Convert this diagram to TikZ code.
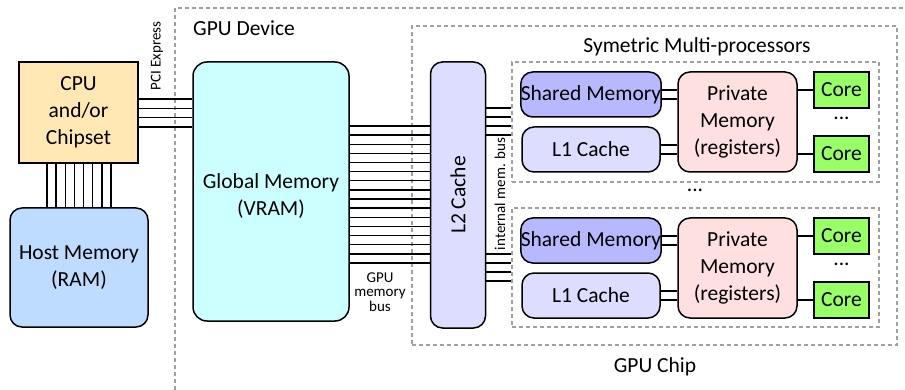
\documentclass[tikz,border=0pt]{standalone}
\usepackage{fontspec}
\setmainfont{Carlito}
\definecolor{cpuC}{HTML}{FFE8B3}
\definecolor{hostC}{HTML}{BDDCFF}
\definecolor{gmC}{HTML}{CCFFFF}
\definecolor{lC}{HTML}{DDDDFF}
\definecolor{shC}{HTML}{B8B8FF}
\definecolor{prC}{HTML}{FFE0E0}
\definecolor{coreC}{HTML}{99FF66}
\definecolor{dashC}{HTML}{A0A0A0}
\tikzset{
  box/.style={draw=black, line width=1.5pt, inner sep=0pt, align=center,
    font=\fontsize{21.5}{27}\selectfont},
  rbox/.style={box, rounded corners=12pt},
  bus/.style={line width=1.4pt},
  dashbox/.style={draw=dashC, line width=1.2pt, dash pattern=on 4pt off 3pt},
  small/.style={font=\fontsize{15}{14.5}\selectfont, align=center, inner sep=0pt},
  big/.style={font=\fontsize{21.5}{27}\selectfont, align=center, inner sep=0pt},
}
\begin{document}
\begin{tikzpicture}[x=1pt,y=-1pt]
\useasboundingbox (0,0) rectangle (905,390);
% dashed containers
\draw[dashbox] (175,390) -- (175,8) -- (905,8);
\node[dashbox, rectangle, minimum width=485pt, minimum height=319pt, inner sep=0pt] (chip) at (654.5,185.5) {};
\node[dashbox, rectangle, minimum width=367pt, minimum height=120pt, inner sep=0pt] (sm1) at (695.5,122) {};
\node[dashbox, rectangle, minimum width=367pt, minimum height=119pt, inner sep=0pt] (sm2) at (695.5,267.5) {};
% labels
\node[big, anchor=west] (lgd) at (193,28) {GPU Device};
\node[big] (lchip) at (655,367) {GPU Chip};
\node[big] (lsm) at (697,47) {Symetric Multi-processors};
\node[small, rotate=90] (lpci) at (157,56) {PCI Express};
\node[small] (lgmb) at (380,292) {GPU\\memory\\bus};
\node[small, rotate=90] (limb) at (500,194) {internal mem. bus};
\node[big] (dsm) at (695,190) {...};
% host side
\node[box, fill=cpuC, minimum width=119pt, minimum height=101pt] (cpu) at (78.5,112.5) {CPU\\and/or\\Chipset};
\node[rbox, fill=hostC, minimum width=138pt, minimum height=119pt] (host) at (79,267.5) {Host Memory\\(RAM)};
% GPU
\node[rbox, rounded corners=14pt, fill=gmC, minimum width=156pt, minimum height=259pt] (gm) at (271,191.5) {};
\node[big] (gmt) at (271,196) {Global Memory\\(VRAM)};
\node[rbox, fill=lC, minimum width=55pt, minimum height=266pt] (l2) at (458,195) {};
\node[big, rotate=90] (l2t) at (458,195) {L2 Cache};
% SMs
\foreach \k/\dy in {1/0,2/146}{
  \node[rbox, fill=shC, minimum width=138pt, minimum height=45pt] (sh\k) at (591,94.5+\dy) {Shared Memory};
  \node[rbox, fill=lC, minimum width=138pt, minimum height=45pt] (lone\k) at (591,149.5+\dy) {L1 Cache};
  \node[rbox, fill=prC, minimum width=119pt, minimum height=100pt] (pr\k) at (737.5,122+\dy) {Private\\Memory\\(registers)};
  \node[box, fill=coreC, minimum width=55pt, minimum height=36pt] (ca\k) at (841.5,90+\dy) {Core};
  \node[box, fill=coreC, minimum width=55pt, minimum height=36pt] (cb\k) at (841.5,154+\dy) {Core};
  \node[big] (dc\k) at (841.5,118+\dy) {...};
  \draw[bus] (sh\k.east |- 0,90+\dy) -- (pr\k.west |- 0,90+\dy);
  \draw[bus] (sh\k.east |- 0,99+\dy) -- (pr\k.west |- 0,99+\dy);
  \draw[bus] (lone\k.east |- 0,145+\dy) -- (pr\k.west |- 0,145+\dy);
  \draw[bus] (lone\k.east |- 0,154+\dy) -- (pr\k.west |- 0,154+\dy);
  \draw[bus] (pr\k.east |- ca\k.west) -- (ca\k.west);
  \draw[bus] (pr\k.east |- cb\k.west) -- (cb\k.west);
  \foreach \i in {0,...,3}{
    \draw[bus] (l2.east |- 0,108+\dy+9*\i) -- (sm\k.west |- 0,108+\dy+9*\i);
  }
}
% buses
\foreach \i in {0,...,3}{
  \draw[bus] (cpu.east |- 0,99+9.33*\i) -- (gm.west |- 0,99+9.33*\i);
}
\foreach \i in {0,...,7}{
  \draw[bus] (cpu.south -| 47+9.14*\i,0) -- (host.north -| 47+9.14*\i,0);
}
\foreach \i in {0,...,15}{
  \draw[bus] (gm.east |- 0,126+9.13*\i) -- (l2.west |- 0,126+9.13*\i);
}
\end{tikzpicture}
\end{document}
